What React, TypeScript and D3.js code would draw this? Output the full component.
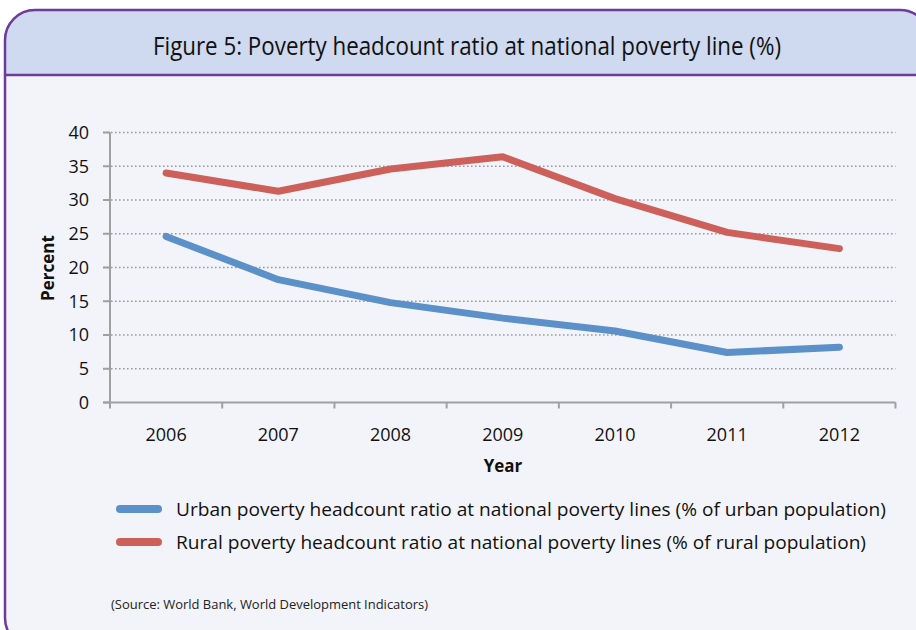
import React from "react";
import * as d3 from "d3";

const years = ["2006", "2007", "2008", "2009", "2010", "2011", "2012"];
const urban = [24.6, 18.2, 14.8, 12.5, 10.6, 7.4, 8.2];
const rural = [34.0, 31.3, 34.6, 36.4, 30.2, 25.2, 22.8];
const yTicks = [0, 5, 10, 15, 20, 25, 30, 35, 40];
const titleText = "Figure 5: Poverty headcount ratio at national poverty line (%)";
const legendLabels = [
  "Urban poverty headcount ratio at national poverty lines (% of urban population)",
  "Rural poverty headcount ratio at national poverty lines (% of rural population)",
];
const sourceText = "(Source: World Bank, World Development Indicators)";

const W = 916;
const H = 630;
const purple = "#6e3a9c";
const blue = "#5b90c8";
const red = "#cd605b";
const font = "Open Sans, Noto Sans, sans-serif";

export default function App() {
  const x = d3.scaleBand<string>().domain(years).range([110, 895.5]).padding(0);
  const y = d3.scaleLinear().domain([0, 40]).range([402.5, 132.5]);
  const line = d3
    .line<number>()
    .x((_, i) => (x(years[i]) as number) + x.bandwidth() / 2)
    .y((d) => y(d));

  const left = 5;
  const top = 10;
  const right = 930;
  const bottom = 648;
  const r = 30;
  const headerBottom = 75;

  const framePath = `M${left},${top + r} A${r},${r} 0 0 1 ${left + r},${top} L${right - r},${top} A${r},${r} 0 0 1 ${right},${top + r} L${right},${bottom - r} A${r},${r} 0 0 1 ${right - r},${bottom} L${left + r},${bottom} A${r},${r} 0 0 1 ${left},${bottom - r} Z`;
  const headerPath = `M${left},${headerBottom} L${left},${top + r} A${r},${r} 0 0 1 ${left + r},${top} L${right - r},${top} A${r},${r} 0 0 1 ${right},${top + r} L${right},${headerBottom} Z`;

  const xTickPositions = [...years.map((yr) => x(yr) as number), 895.5];

  return (
    <svg
      width={W}
      height={H}
      style={{ position: "absolute", left: 0, top: 0, display: "block" }}
      fontFamily={font}
    >
      <rect x={0} y={0} width={W} height={H} fill="#ffffff" />
      <path d={framePath} fill="#f3f4f9" stroke="none" />
      <path d={headerPath} fill="#cfd9ef" />
      <line x1={left} x2={right} y1={headerBottom} y2={headerBottom} stroke={purple} strokeWidth={2.5} />
      <path d={framePath} fill="none" stroke={purple} strokeWidth={2.5} />

      <text
        x={467}
        y={55}
        textAnchor="middle"
        fontSize={25.5}
        fill="#111"
        textLength={628}
        lengthAdjust="spacingAndGlyphs"
      >
        {titleText}
      </text>

      {/* gridlines */}
      {yTicks.map((t) => (
        <line
          key={"g" + t}
          x1={103}
          x2={895.5}
          y1={y(t)}
          y2={y(t)}
          stroke="#9a9a9a"
          strokeWidth={t === 0 ? 0 : 1.6}
          strokeDasharray="1.6,2.4"
        />
      ))}
      {/* y axis */}
      <line x1={110} x2={110} y1={y(40)} y2={y(0)} stroke="#a0a0a0" strokeWidth={2} />
      {yTicks.map((t) => (
        <g key={"yt" + t}>
          <line x1={103} x2={110} y1={y(t)} y2={y(t)} stroke="#a0a0a0" strokeWidth={2} />
          <text x={89} y={y(t)} dy="0.36em" textAnchor="end" fontSize={18} fill="#111">
            {t}
          </text>
        </g>
      ))}
      {/* x axis */}
      <line x1={103} x2={895.5} y1={y(0)} y2={y(0)} stroke="#a0a0a0" strokeWidth={2} />
      {xTickPositions.map((p, i) => (
        <line key={"xt" + i} x1={p} x2={p} y1={y(0)} y2={y(0) + 6} stroke="#a0a0a0" strokeWidth={2} />
      ))}
      {years.map((yr) => (
        <text
          key={"xl" + yr}
          x={(x(yr) as number) + x.bandwidth() / 2}
          y={441}
          textAnchor="middle"
          fontSize={18}
          fill="#111"
        >
          {yr}
        </text>
      ))}

      <text
        transform={`translate(54,268) rotate(-90)`}
        textAnchor="middle"
        fontSize={17}
        fontWeight="bold"
        fill="#111"
      >
        Percent
      </text>
      <text x={503} y={472} textAnchor="middle" fontSize={17} fontWeight="bold" fill="#111">
        Year
      </text>

      {/* lines */}
      <path d={line(rural) as string} fill="none" stroke={red} strokeWidth={7} strokeLinecap="round" strokeLinejoin="round" />
      <path d={line(urban) as string} fill="none" stroke={blue} strokeWidth={7} strokeLinecap="round" strokeLinejoin="round" />

      {/* legend */}
      {[blue, red].map((c, i) => (
        <g key={"lg" + i}>
          <line x1={120} x2={158} y1={509 + i * 33} y2={509 + i * 33} stroke={c} strokeWidth={8} strokeLinecap="round" />
          <text
            x={176}
            y={509 + i * 33}
            dy="0.36em"
            fontSize={19}
            fill="#111"
            textLength={i === 0 ? 710 : 690}
            lengthAdjust="spacingAndGlyphs"
          >
            {legendLabels[i]}
          </text>
        </g>
      ))}

      <text x={111} y={609} fontSize={13.5} fill="#222" textLength={317} lengthAdjust="spacingAndGlyphs">
        {sourceText}
      </text>
    </svg>
  );
}
